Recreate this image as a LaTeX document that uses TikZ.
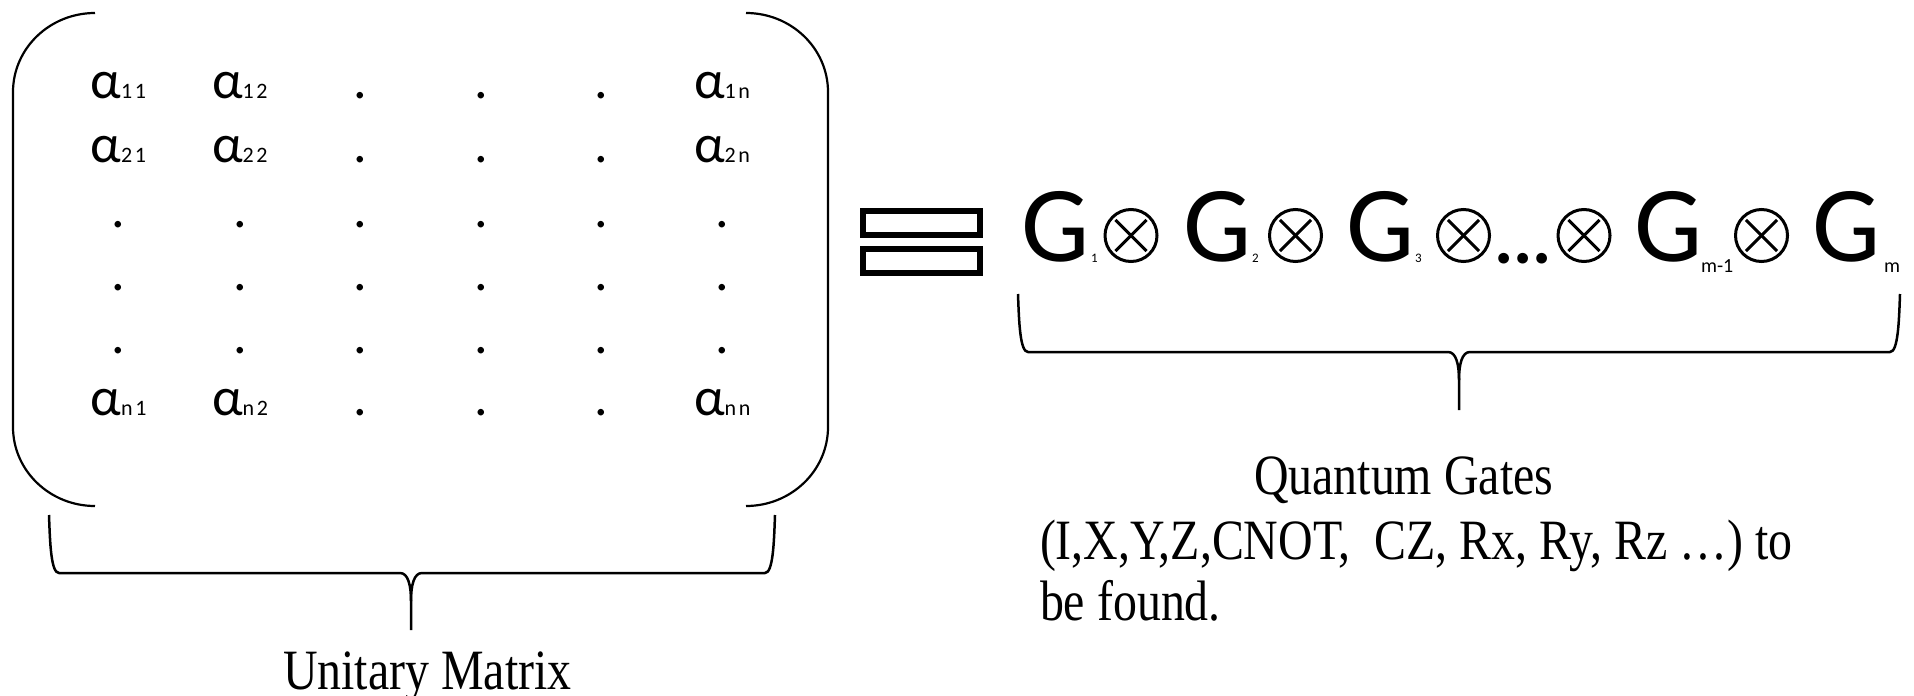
\documentclass[tikz,border=0pt]{standalone}
\usepackage{fontspec}
\setmainfont{Liberation Serif}
\newfontfamily\sansfnt{Carlito}
\newfontfamily\subfnt[LetterSpace=12]{Carlito}
\newfontfamily\capfnt[FakeStretch=0.84]{Liberation Serif}

% curly brace opening downwards: #1 left x, #2 right x, #3 top y of the ends,
% #4 y of the long bar, #5 x of the cusp, #6 y of the cusp tip
\newcommand{\drawbrace}[6]{%
  \draw[bracestyle] (#1,#3) .. controls (#1+1,#4-30) and (#1+2,#4) .. (#1+10,#4)
     -- (#5-11,#4) .. controls (#5-3,#4) and (#5,#4+12) .. (#5,#4+28) -- (#5,#6);
  \draw[bracestyle] (#2,#3) .. controls (#2-1,#4-30) and (#2-2,#4) .. (#2-10,#4)
     -- (#5+11,#4) .. controls (#5+3,#4) and (#5,#4+12) .. (#5,#4+28);
}

\tikzset{
  every node/.style={inner sep=0pt, outer sep=0pt},
  entry/.style={anchor=base west, font=\sansfnt\fontsize{54}{60}\selectfont},
  mdot/.style={anchor=base, font=\sansfnt\fontsize{54}{60}\selectfont},
  gate/.style={anchor=base west, font=\sansfnt\fontsize{108}{120}\selectfont},
  gsub/.style={anchor=base west, font=\sansfnt\fontsize{13}{15}\selectfont},
  gsubwide/.style={anchor=base west, font=\sansfnt\fontsize{20}{22}\selectfont},
  ellip/.style={anchor=base west, font=\sansfnt\bfseries\fontsize{72}{80}\selectfont},
  otimes/.style={circle, draw, line width=3pt, minimum size=52pt},
  xarm/.style={line width=3pt, shorten <=4pt, shorten >=4pt},
  caption/.style={anchor=base west, font=\capfnt\fontsize{57}{63}\selectfont},
  bracket/.style={line width=2.2pt},
  bracestyle/.style={line width=2.5pt, line join=round},
  eqbar/.style={draw, line width=6pt, minimum width=117pt, minimum height=24pt}
}

\begin{document}
\begin{tikzpicture}[x=1pt, y=-1pt]
\useasboundingbox (0,0) rectangle (1914,696);

% ---- matrix brackets ----
\draw[bracket] (95,13) .. controls (49.7,13) and (13,48.4) .. (13,92)
  -- (13,427) .. controls (13,470.6) and (49.7,506) .. (95,506);
\draw[bracket] (746,13) .. controls (791.3,13) and (828,48.4) .. (828,92)
  -- (828,427) .. controls (828,470.6) and (791.3,506) .. (746,506);

% ---- matrix entries ----
\foreach \r/\y in {1/98, 2/162, n/415}{
  \foreach \c/\x in {1/118.5, 2/240, n/722}{
    \node[entry] (a\r\c) at (\x-28,\y) {α{\subfnt\fontsize{22}{24}\selectfont \r\c}};
  }
  \foreach \c/\x in {3/360.5, 4/481, 5/601.5}{
    \node[mdot] (d\r\c) at (\x,\y) {.};
  }
}
\foreach \r/\y in {3/227, 4/290, 5/353}{
  \foreach \c/\x in {1/118.5, 2/240, 3/360.5, 4/481, 5/601.5, 6/722}{
    \node[mdot] (d\r\c) at (\x,\y) {.};
  }
}

% ---- brace under the matrix and its caption ----
\drawbrace{49}{775}{515}{573}{411}{630}
\node[caption] (umcap) at (283,689) {Unitary Matrix};

% ---- equality sign ----
\node[eqbar] (eqtop) at (921.5,223) {};
\node[eqbar] (eqbot) at (921.5,260.5) {};

% ---- product of gates ----
\node[gate] (g1) at (1021,261) {G};
\node[gsub] (s1) at (1091,262) {1};
\node[otimes] (o1) at (1131,235.5) {};
\node[gate] (g2) at (1183,261) {G};
\node[gsub] (s2) at (1252,262) {2};
\node[otimes] (o2) at (1295.5,235.5) {};
\node[gate] (g3) at (1346,261) {G};
\node[gsub] (s3) at (1415,262) {3};
\node[otimes] (o3) at (1463.5,235.5) {};
\node[ellip] (dots) at (1494,263) {...};
\node[otimes] (o4) at (1584,235.5) {};
\node[gate] (g4) at (1634,261) {G};
\node[gsubwide] (s4) at (1701,272) {m-1};
\node[otimes] (o5) at (1761.5,235.5) {};
\node[gate] (g5) at (1812,261) {G};
\node[gsubwide] (s5) at (1884,272) {m};
\foreach \o in {o1,o2,o3,o4,o5}{
  \draw[xarm] (\o.135) -- (\o.-45);
  \draw[xarm] (\o.45) -- (\o.-135);
}

% ---- brace under the gates and its caption ----
\drawbrace{1018}{1900}{294}{352}{1459}{410}
\node[caption] (qgcap) at (1254,494) {Quantum Gates};
\node[caption] (qgline2) at (1040,559) {(I,X,Y,Z,CNOT,\ \ CZ, Rx, Ry, Rz …) to};
\node[caption] (qgline3) at (1040,620) {be found.};
\end{tikzpicture}
\end{document}
